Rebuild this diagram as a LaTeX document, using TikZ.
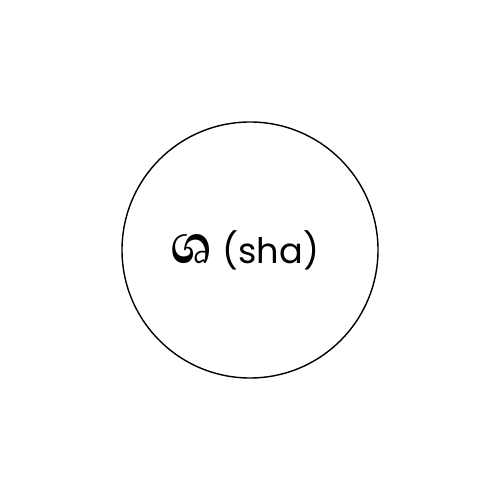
\documentclass[tikz,border=0pt]{standalone}
\usepackage{fontspec}
\newfontfamily\sinfont[Script=Sinhala]{Abhaya Libre}
\newfontfamily\latfont{Poppins}
\tikzset{
    letter circ/.style={circle, draw, line width=0.8pt, minimum size=5.12cm, inner sep=0pt},
    letter text/.style={font=\latfont\fontsize{20}{24}\selectfont}
}
\newcommand{\sinletter}[1]{{\sinfont\bfseries\fontsize{40}{42}\selectfont #1}}
\begin{document}
\begin{tikzpicture}[x=1cm,y=1cm]
\useasboundingbox (0,0) rectangle (10,10);
\node[letter circ] (circ) at (5,5) {};
\node[letter text] (sha) at ([xshift=-0.1cm]circ.center) {\sinletter{ශ} (sha)};
\end{tikzpicture}
\end{document}
